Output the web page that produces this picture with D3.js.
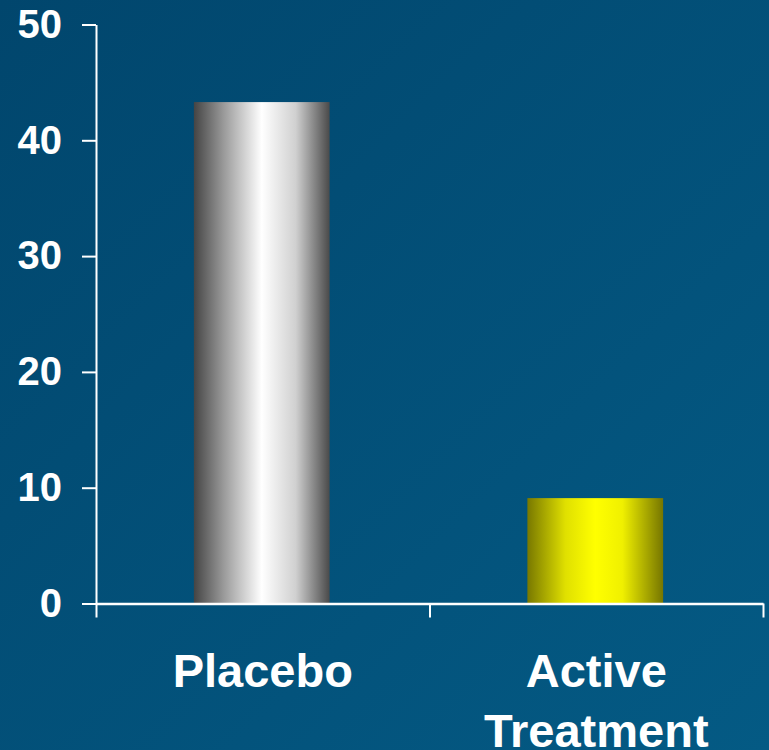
<!DOCTYPE html>
<html>
<head>
<meta charset="utf-8">
<script src="https://cdn.jsdelivr.net/npm/d3@7"></script>
<style>
  html, body { margin: 0; padding: 0; background: #024b72; }
  svg { display: block; font-family: "Liberation Sans", Arial, sans-serif; }
</style>
</head>
<body>
<svg id="chart" width="769" height="750"></svg>
<script>
// Data
const categories = ["Placebo", "Active Treatment"];
const categoryLines = [["Placebo"], ["Active", "Treatment"]];
const values = [43.3, 9.1];
const yTicks = [0, 10, 20, 30, 40, 50];

const W = 769, H = 750;
const plot = { left: 96, right: 763, top: 24.5, bottom: 603.5 };

const svg = d3.select("#chart");
const defs = svg.append("defs");

// Background: soft diagonal blue gradient
const bg = defs.append("linearGradient").attr("id", "bg")
  .attr("x1", "0").attr("y1", "0").attr("x2", "1").attr("y2", "1");
bg.append("stop").attr("offset", "0").attr("stop-color", "#01466d");
bg.append("stop").attr("offset", "1").attr("stop-color", "#045a84");
svg.append("rect").attr("width", W).attr("height", H).attr("fill", "url(#bg)");

// Cylinder-like horizontal shading for each bar
const barShades = [
  [["0", "#444444"], ["0.22", "#9a9a9a"], ["0.5", "#ffffff"], ["0.75", "#d0d0d0"], ["1", "#4a4a4a"]],
  [["0", "#787800"], ["0.28", "#e0e000"], ["0.5", "#ffff00"], ["0.7", "#f0f000"], ["1", "#767600"]]
];
barShades.forEach((stops, i) => {
  const g = defs.append("linearGradient").attr("id", "bar" + i)
    .attr("x1", "0").attr("y1", "0").attr("x2", "1").attr("y2", "0");
  stops.forEach(([o, c]) => g.append("stop").attr("offset", o).attr("stop-color", c));
});

// Scales
const x = d3.scaleBand().domain(categories)
  .range([plot.left, plot.right]).paddingInner(0.593).paddingOuter(0.2965);
const y = d3.scaleLinear().domain([0, 50]).range([plot.bottom, plot.top]);
const xEdges = d3.scaleLinear().domain([0, categories.length]).range([plot.left, plot.right]);

// Bars
svg.append("g").selectAll("rect").data(values).join("rect")
  .attr("x", (d, i) => x(categories[i]) - 1)
  .attr("y", d => y(d))
  .attr("width", x.bandwidth())
  .attr("height", d => y(0) - y(d))
  .attr("fill", (d, i) => `url(#bar${i})`);

// Y axis
const yAxis = svg.append("g").attr("transform", `translate(${plot.left},0)`)
  .call(d3.axisLeft(y).tickValues(yTicks).tickSize(14).tickPadding(20).tickSizeOuter(0));
yAxis.select(".domain").attr("stroke", "#ffffff").attr("stroke-width", 2);
yAxis.selectAll(".tick line").attr("stroke", "#ffffff").attr("stroke-width", 2);
yAxis.selectAll(".tick text")
  .attr("fill", "#ffffff").attr("font-size", 40).attr("font-weight", "bold")
  .attr("font-family", "'Liberation Sans', Arial, sans-serif");

// X axis with ticks at category boundaries
const xAxis = svg.append("g").attr("transform", `translate(0,${plot.bottom})`)
  .call(d3.axisBottom(xEdges).tickValues(d3.range(categories.length + 1))
    .tickSize(14).tickSizeOuter(0).tickFormat(""));
xAxis.select(".domain").attr("stroke", "#ffffff").attr("stroke-width", 2.5);
xAxis.selectAll(".tick line").attr("stroke", "#ffffff").attr("stroke-width", 2);

// Category labels
const labels = svg.append("g");
categories.forEach((c, i) => {
  const cx = x(c) + x.bandwidth() / 2;
  const t = labels.append("text")
    .attr("x", cx)
    .attr("y", 687)
    .attr("text-anchor", "middle")
    .attr("fill", "#ffffff")
    .attr("font-size", 47)
    .attr("font-weight", "bold");
  categoryLines[i].forEach((line, j) => {
    t.append("tspan").attr("x", cx)
      .attr("dy", j === 0 ? 0 : 60).text(line);
  });
});
</script>
</body>
</html>
